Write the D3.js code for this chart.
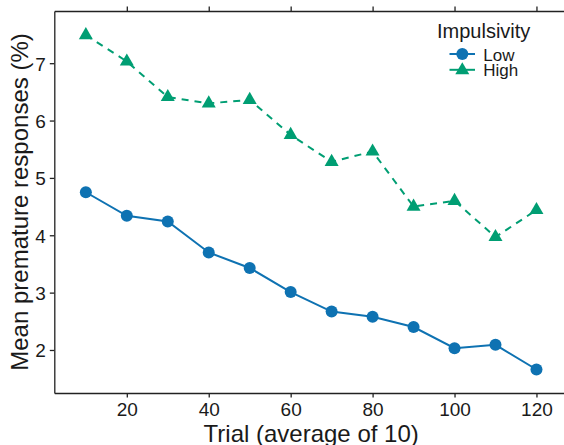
<!DOCTYPE html>
<html>
<head>
<meta charset="utf-8">
<script src="https://cdn.jsdelivr.net/npm/d3@7"></script>
<style>
  body { margin: 0; background: #fff; }
  text { font-family: "Liberation Sans", Arial, sans-serif; fill: #1a1a1a; }
</style>
</head>
<body>
<svg id="chart"></svg>
<script>
var trials = [10, 20, 30, 40, 50, 60, 70, 80, 90, 100, 110, 120];
var lowValues = [4.75, 4.34, 4.24, 3.70, 3.43, 3.01, 2.67, 2.58, 2.40, 2.03, 2.09, 1.66];
var highValues = [7.49, 7.03, 6.41, 6.30, 6.36, 5.75, 5.28, 5.46, 4.50, 4.60, 3.97, 4.44];
var xTicks = [20, 40, 60, 80, 100, 120];
var yTicks = [2, 3, 4, 5, 6, 7];
var groups = ['Low', 'High'];

var config = {
  svgWidth: 564,
  svgHeight: 445,
  left: 54.3,
  right: 568,
  top: 11,
  bottom: 393,
  lowColor: '#0E72B2',
  highColor: '#009E73',
  tickFont: 19,
  titleFont: 24
};

var svg = d3.select('#chart')
  .attr('width', config.svgWidth)
  .attr('height', config.svgHeight);

var x = d3.scaleLinear().domain([2.3, 127.7]).range([config.left, config.right]);
var y = d3.scaleLinear().domain([1.25, 7.91]).range([config.bottom, config.top]);

// axes
var bottomAxis = svg.append('g')
  .attr('transform', 'translate(0,' + config.bottom + ')')
  .call(d3.axisBottom(x).tickValues(xTicks).tickFormat(d3.format('d')).tickSize(4.5).tickPadding(4).tickSizeOuter(0));
var topAxis = svg.append('g')
  .attr('transform', 'translate(0,' + config.top + ')')
  .call(d3.axisTop(x).tickValues(xTicks).tickSize(4.5).tickFormat('').tickSizeOuter(0));
var leftAxis = svg.append('g')
  .attr('transform', 'translate(' + config.left + ',0)')
  .call(d3.axisLeft(y).tickValues(yTicks).tickFormat(d3.format('d')).tickSize(4.5).tickPadding(4).tickSizeOuter(0));

[bottomAxis, topAxis, leftAxis].forEach(function(a) {
  a.selectAll('path, line').attr('stroke', '#222').attr('stroke-width', 1.3);
  a.selectAll('text').style('font-size', config.tickFont + 'px').attr('fill', '#1a1a1a');
});
bottomAxis.selectAll('text').attr('dy', '0.75em');
leftAxis.selectAll('text').attr('dy', '0.36em');

svg.append('text')
  .attr('x', (config.left + config.right) / 2)
  .attr('y', 441.5)
  .attr('text-anchor', 'middle')
  .style('font-size', config.titleFont + 'px')
  .text('Trial (average of 10)');

svg.append('text')
  .attr('transform', 'translate(28.3,' + ((config.top + config.bottom) / 2) + ') rotate(-90)')
  .attr('text-anchor', 'middle')
  .style('font-size', config.titleFont + 'px')
  .text('Mean premature responses (%)');

// lines
var line = d3.line()
  .x(function(d) { return x(d[0]); })
  .y(function(d) { return y(d[1]); });

var lowData = trials.map(function(t, i) { return [t, lowValues[i]]; });
var highData = trials.map(function(t, i) { return [t, highValues[i]]; });

svg.append('path')
  .attr('d', line(highData))
  .attr('fill', 'none')
  .attr('stroke', config.highColor)
  .attr('stroke-width', 2)
  .attr('stroke-dasharray', '7,6');

svg.append('path')
  .attr('d', line(lowData))
  .attr('fill', 'none')
  .attr('stroke', config.lowColor)
  .attr('stroke-width', 2);

var triangle = d3.symbol().type(d3.symbolTriangle).size(85);

svg.selectAll('.high-pt')
  .data(highData)
  .enter().append('path')
  .attr('class', 'high-pt')
  .attr('d', triangle)
  .attr('transform', function(d) { return 'translate(' + x(d[0]) + ',' + y(d[1]) + ')'; })
  .attr('fill', config.highColor);

svg.selectAll('.low-pt')
  .data(lowData)
  .enter().append('circle')
  .attr('class', 'low-pt')
  .attr('cx', function(d) { return x(d[0]); })
  .attr('cy', function(d) { return y(d[1]); })
  .attr('r', 6)
  .attr('fill', config.lowColor);

// legend
var legend = svg.append('g');
legend.append('text')
  .attr('x', 437)
  .attr('y', 37.5)
  .style('font-size', '20px')
  .text('Impulsivity');

groups.forEach(function(g, i) {
  var cy = 54 + i * 15.8;
  var color = g === 'Low' ? config.lowColor : config.highColor;
  legend.append('line')
    .attr('x1', 449.5).attr('x2', 475)
    .attr('y1', cy).attr('y2', cy)
    .attr('stroke', color)
    .attr('stroke-width', 2);
  if (g === 'Low') {
    legend.append('circle').attr('cx', 462.3).attr('cy', cy).attr('r', 6).attr('fill', color);
  } else {
    legend.append('path').attr('d', triangle).attr('transform', 'translate(462.3,' + (cy + 0.5) + ')').attr('fill', color);
  }
  legend.append('text')
    .attr('x', 483.3)
    .attr('y', cy + 6.5)
    .style('font-size', '17px')
    .text(g);
});
</script>
</body>
</html>
